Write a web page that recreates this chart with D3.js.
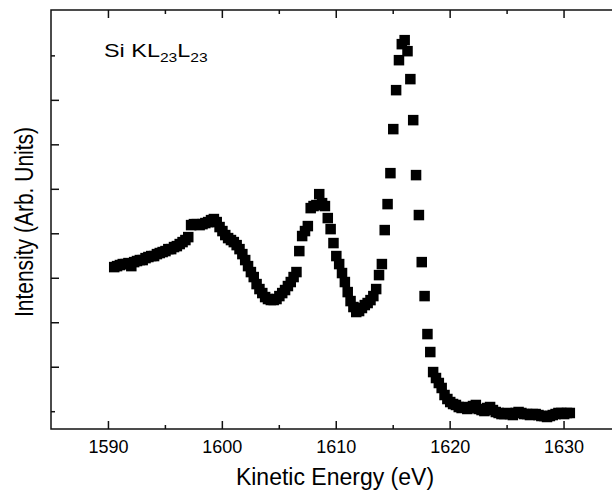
<html>
  <meta charset="utf-8">
  <head>
  <style>
    body {
      margin: 0;
      background: #fff;
    }
    svg {
      display: block;
      font-family: Arial, 'Liberation Sans', sans-serif;
    }
  </style>
  </head>
  <body>
    <div id="chart"></div>

    <script src="https://cdn.jsdelivr.net/npm/d3@7"></script>
    <script>

    'use strict';

    // spectrum sampled every 0.25 eV starting at 1590.55 eV
    var energyStart = 1590.55;
    var energyStep = 0.25;
    var intensity = [
      2120, 2131, 2143, 2154, 2154, 2165, 2131, 2176, 2188, 2199,
      2199, 2221, 2233, 2244, 2244, 2266, 2278, 2289, 2300, 2322,
      2322, 2345, 2356, 2379, 2401, 2424, 2457, 2592, 2603, 2603,
      2592, 2603, 2615, 2626, 2648, 2660, 2626, 2570, 2525, 2480,
      2446, 2424, 2401, 2367, 2322, 2266, 2199, 2131, 2064, 2008,
      1929, 1873, 1828, 1783, 1761, 1750, 1750, 1761, 1794, 1828,
      1862, 1907, 1952, 2008, 2064, 2300, 2469, 2525, 2581, 2783,
      2806, 2817, 2940, 2839, 2806, 2671, 2547, 2390, 2244, 2154,
      2053, 1952, 1839, 1738, 1671, 1615, 1626, 1660, 1693, 1716,
      1749, 1794, 1873, 2030, 2154, 2536, 2828, 3176, 3671, 4109,
      4446, 4626, 4671, 4547, 4233, 3772, 3154, 2705, 2176, 1794,
      1367, 1165, 940, 873, 817, 761, 682, 637, 603, 581,
      570, 547, 536, 547, 525, 536, 558, 570, 525, 513,
      502, 536, 547, 513, 491, 480, 468, 468, 480, 468,
      457, 480, 491, 480, 468, 468, 457, 468, 468, 457,
      446, 446, 435, 446, 457, 468, 480, 480, 468, 480,
      480
    ];

    var xMajorTicks = [1590, 1600, 1610, 1620, 1630];
    var xMinorTicks = [1595, 1605, 1615, 1625];
    var yMajorTicks = [1000, 1500, 2000, 2500, 3000, 3500, 4000];
    var yMinorTicks = [500, 4500];

    var points = intensity.map(function(v, i) {
      return { e: energyStart + i * energyStep, v: v };
    });

    var W = 612, H = 492;
    var mLeft = 51, mRight = 620.5, mTop = 10, mBottom = 429;

    var x = d3.scaleLinear().domain([1585, 1635]).range([mLeft, mRight]);
    var y = d3.scaleLinear().domain([300, 5010]).range([mBottom, mTop]);

    var svg = d3.select('#chart')
      .append('svg')
        .attr('width', W)
        .attr('height', H);

    function styleAxis(g) {
      g.select('.domain').remove();
      g.selectAll('.tick line')
        .attr('stroke', '#111')
        .attr('stroke-width', 1.5);
      g.selectAll('.tick text')
        .attr('fill', '#000')
        .style('font-size', '18px')
        .style('font-family', 'Arial, "Liberation Sans", sans-serif');
    }

    // bottom axis, ticks pointing in
    svg.append('g')
      .attr('transform', 'translate(0,' + mBottom + ')')
      .call(d3.axisBottom(x).tickValues(xMajorTicks).tickSize(-8).tickPadding(11).tickFormat(d3.format('d')))
      .call(styleAxis);
    svg.append('g')
      .attr('transform', 'translate(0,' + mBottom + ')')
      .call(d3.axisBottom(x).tickValues(xMinorTicks).tickSize(-4).tickFormat(''))
      .call(styleAxis);

    // top axis
    svg.append('g')
      .attr('transform', 'translate(0,' + mTop + ')')
      .call(d3.axisTop(x).tickValues(xMajorTicks).tickSize(-8).tickFormat(''))
      .call(styleAxis);
    svg.append('g')
      .attr('transform', 'translate(0,' + mTop + ')')
      .call(d3.axisTop(x).tickValues(xMinorTicks).tickSize(-4).tickFormat(''))
      .call(styleAxis);

    // left axis, no labels
    svg.append('g')
      .attr('transform', 'translate(' + mLeft + ',0)')
      .call(d3.axisLeft(y).tickValues(yMajorTicks).tickSize(-8).tickFormat(''))
      .call(styleAxis);
    svg.append('g')
      .attr('transform', 'translate(' + mLeft + ',0)')
      .call(d3.axisLeft(y).tickValues(yMinorTicks).tickSize(-4).tickFormat(''))
      .call(styleAxis);

    // frame
    svg.append('rect')
      .attr('x', mLeft)
      .attr('y', mTop)
      .attr('width', mRight - mLeft)
      .attr('height', mBottom - mTop)
      .attr('fill', 'none')
      .attr('stroke', '#111')
      .attr('stroke-width', 1.5);

    // data squares
    var s = 10.5;
    svg.append('g')
      .selectAll('rect')
      .data(points)
      .enter()
      .append('rect')
        .attr('x', d => x(d.e) - s / 2)
        .attr('y', d => y(d.v) - s / 2)
        .attr('width', s)
        .attr('height', s)
        .attr('fill', '#000');

    // axis titles
    svg.append('text')
      .attr('x', 335)
      .attr('y', 485)
      .attr('text-anchor', 'middle')
      .style('font-size', '23px')
      .text('Kinetic Energy (eV)');

    svg.append('text')
      .attr('transform', 'translate(33,222) scale(1.2,1) rotate(-90)')
      .attr('text-anchor', 'middle')
      .style('font-size', '21px')
      .text('Intensity (Arb. Units)');

    // label
    var lab = svg.append('text')
      .attr('transform', 'translate(104,57) scale(1.3,1)')
      .style('font-size', '18px');
    lab.append('tspan').text('Si KL');
    lab.append('tspan').attr('dy', 5).style('font-size', '12px').text('23');
    lab.append('tspan').attr('dy', -5).text('L');
    lab.append('tspan').attr('dy', 5).style('font-size', '12px').text('23');

    </script>
  </body>
</html>
